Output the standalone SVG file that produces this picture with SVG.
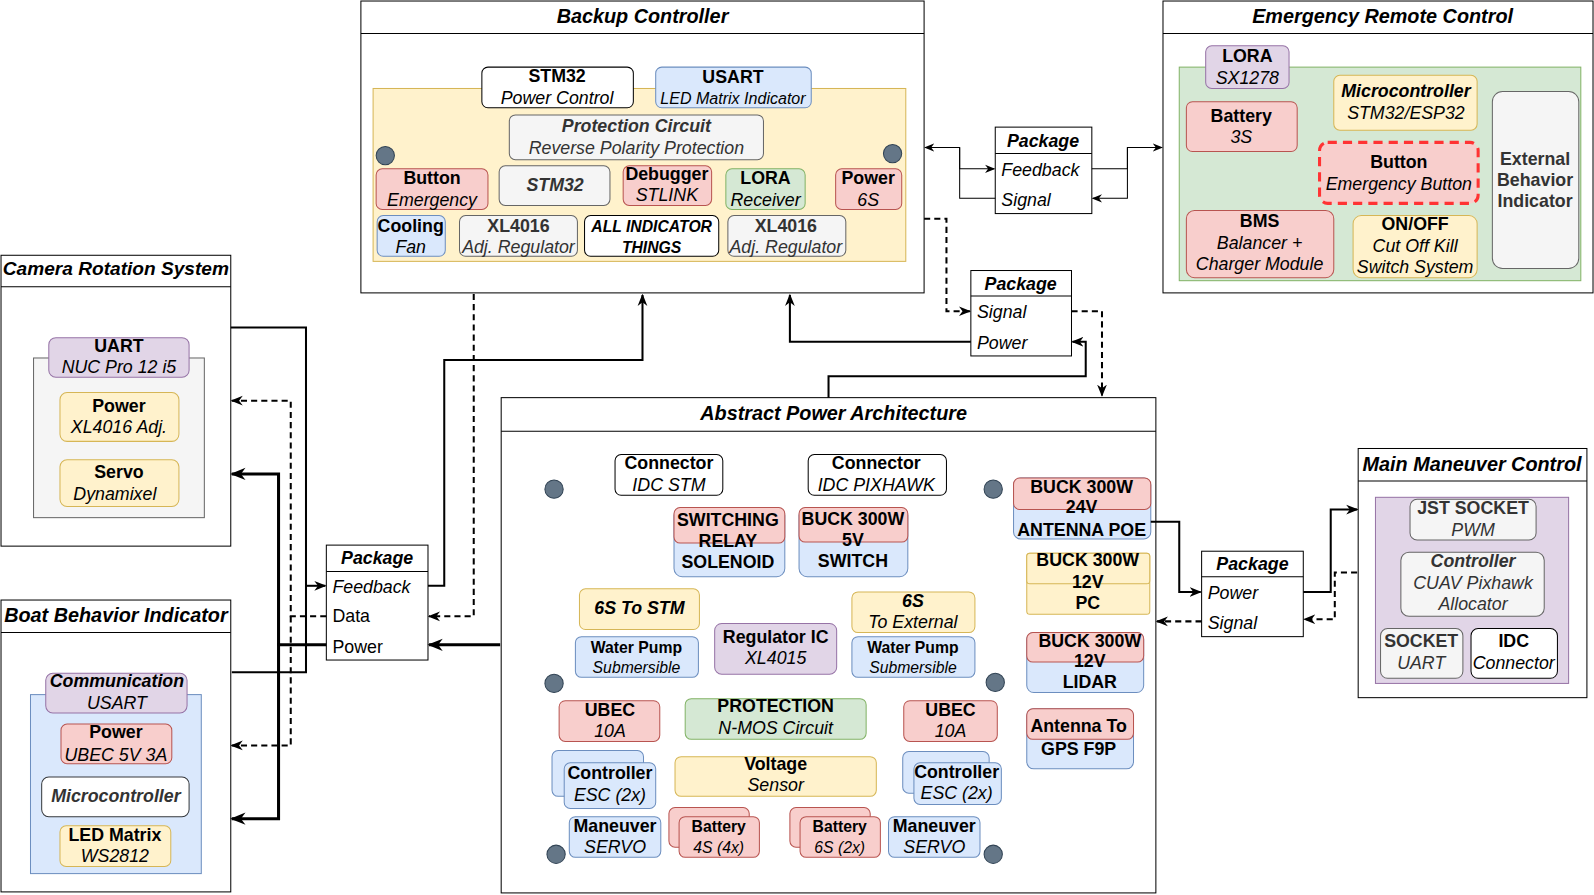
<svg xmlns="http://www.w3.org/2000/svg" width="1594" height="895" viewBox="0 0 1594 895">
<style>
text{font-family:"Liberation Sans",Arial,sans-serif;font-size:17.5px;text-anchor:middle;dominant-baseline:central;fill:#000}
.b{font-weight:bold}
.i{font-style:italic}
.bi{font-weight:bold;font-style:italic}
.s{font-size:15.5px}
.g{fill:#333}
.ttl{font-size:19.5px;font-weight:bold;font-style:italic}
.l{text-anchor:start}
.frame{fill:#fff;stroke:#000;stroke-width:1}
.hd{stroke:#000;stroke-width:1}
.R{fill:#f8cecc;stroke:#b85450}
.B{fill:#dae8fc;stroke:#6c8ebf}
.Y{fill:#fff2cc;stroke:#d6b656}
.G{fill:#d5e8d4;stroke:#82b366}
.P{fill:#e1d5e7;stroke:#9673a6}
.GR{fill:#f5f5f5;stroke:#666}
.W{fill:#fff;stroke:#000}
.dot{fill:#647687;stroke:#314354}
.c{fill:none;stroke:#000}
.d{stroke-dasharray:6 4}
.w1{stroke-width:1}
.w2{stroke-width:2}
.w3{stroke-width:3}
</style>
<defs>
<marker id="a" viewBox="0 0 10 10" refX="9" refY="5" markerWidth="10" markerHeight="10" markerUnits="userSpaceOnUse" orient="auto"><path d="M0,1 L10,5 L0,9 L3,5 Z" fill="#000"/></marker>
<marker id="m" viewBox="0 0 10 10" refX="9" refY="5" markerWidth="12" markerHeight="12" markerUnits="userSpaceOnUse" orient="auto"><path d="M0,1 L10,5 L0,9 L3,5 Z" fill="#000"/></marker>
<marker id="aL" viewBox="0 0 10 10" refX="9" refY="5" markerWidth="15" markerHeight="15" markerUnits="userSpaceOnUse" orient="auto"><path d="M0,1 L10,5 L0,9 L3,5 Z" fill="#000"/></marker>
</defs>
<rect width="1594" height="895" fill="#fff"/>
<g transform="scale(1.0166 1.017)">

<!-- Backup Controller -->
<g id="backup-controller">
<rect class="frame" x="355" y="1" width="554" height="287"/>
<line class="hd" x1="355" y1="33" x2="909" y2="33"/>
<text class="ttl" x="632" y="16">Backup Controller</text>
<rect class="Y" x="367" y="87" width="524" height="170"/>
<rect class="W" x="474" y="66" width="149" height="40" rx="6"/>
<text class="b" x="548" y="75">STM32</text><text class="i" x="548" y="96">Power Control</text>
<rect class="B" x="645" y="66" width="153" height="40" rx="6"/>
<text class="b" x="721" y="76">USART</text><text class="i" x="721" y="96" style="font-size:15.8px">LED Matrix Indicator</text>
<rect class="GR" x="501" y="113" width="250" height="44" rx="6"/>
<text class="bi g" x="626" y="124">Protection Circuit</text><text class="i g" x="626" y="146">Reverse Polarity Protection</text>
<circle class="dot" cx="379" cy="153" r="9"/>
<circle class="dot" cx="878" cy="151" r="9"/>
<rect class="R" x="370" y="166" width="110" height="40" rx="6"/>
<text class="b" x="425" y="175">Button</text><text class="i" x="425" y="197">Emergency</text>
<rect class="GR" x="491" y="163" width="109" height="39" rx="6"/>
<text class="bi g" x="546" y="182">STM32</text>
<rect class="R" x="613" y="163" width="87" height="39" rx="6"/>
<text class="b" x="656" y="171">Debugger</text><text class="i" x="656" y="192">STLINK</text>
<rect class="G" x="714" y="166" width="78" height="40" rx="6"/>
<text class="b" x="753" y="175">LORA</text><text class="i" x="753" y="197">Receiver</text>
<rect class="R" x="822" y="166" width="65" height="40" rx="6"/>
<text class="b" x="854" y="175">Power</text><text class="i" x="854" y="197">6S</text>
<rect class="B" x="371" y="212" width="67" height="40" rx="6"/>
<text class="b" x="404" y="222">Cooling</text><text class="i" x="404" y="243">Fan</text>
<rect class="GR" x="452" y="212" width="116" height="40" rx="6"/>
<text class="b g" x="510" y="222">XL4016</text><text class="i g" x="510" y="243">Adj. Regulator</text>
<rect class="W" x="575" y="212" width="132" height="40" rx="6"/>
<text class="bi s" x="641" y="223">ALL INDICATOR</text><text class="bi s" x="641" y="243">THINGS</text>
<rect class="GR" x="716" y="212" width="116" height="40" rx="6"/>
<text class="b g" x="773" y="222">XL4016</text><text class="i g" x="773" y="243">Adj. Regulator</text>
</g>

<!-- Emergency Remote Control -->
<g id="emergency-remote-control">
<rect class="frame" x="1144" y="1" width="423" height="287"/>
<line class="hd" x1="1144" y1="33" x2="1567" y2="33"/>
<text class="ttl" x="1360" y="16">Emergency Remote Control</text>
<rect class="G" x="1160" y="66" width="395" height="210"/>
<rect class="P" x="1186" y="45" width="82" height="42" rx="6"/>
<text class="b" x="1227" y="55">LORA</text><text class="i" x="1227" y="77">SX1278</text>
<rect class="R" x="1167" y="100" width="109" height="49" rx="6"/>
<text class="b" x="1221" y="114">Battery</text><text class="i" x="1221" y="135">3S</text>
<rect class="Y" x="1312" y="74" width="141" height="54" rx="6"/>
<text class="bi" x="1383" y="89">Microcontroller</text><text class="i" x="1383" y="111">STM32/ESP32</text>
<rect x="1298" y="140" width="156" height="60" rx="8" fill="#f8cecc" stroke="#ff3333" stroke-width="3" stroke-dasharray="9 6"/>
<text class="b" x="1376" y="159">Button</text><text class="i" x="1376" y="181">Emergency Button</text>
<rect class="GR" x="1468" y="90" width="85" height="174" rx="10"/>
<text class="b g" x="1510" y="156">External</text><text class="b g" x="1510" y="177">Behavior</text><text class="b g" x="1510" y="198">Indicator</text>
<rect class="R" x="1167" y="207" width="145" height="66" rx="8"/>
<text class="b" x="1239" y="217">BMS</text><text class="i" x="1239" y="239">Balancer +</text><text class="i" x="1239" y="260">Charger Module</text>
<rect class="Y" x="1331" y="212" width="122" height="61" rx="8"/>
<text class="b" x="1392" y="220">ON/OFF</text><text class="i" x="1392" y="242">Cut Off Kill</text><text class="i" x="1392" y="263">Switch System</text>
</g>

<!-- Package top -->
<g id="package-top">
<rect class="frame" x="979" y="125" width="95" height="85"/>
<line class="hd" x1="979" y1="151" x2="1074" y2="151"/>
<text class="bi" x="1026" y="139">Package</text>
<text class="i l" x="985" y="167">Feedback</text>
<text class="i l" x="985" y="197">Signal</text>
</g>

<!-- Package middle -->
<g id="package-middle">
<rect class="frame" x="955" y="266" width="99" height="84"/>
<line class="hd" x1="955" y1="291" x2="1054" y2="291"/>
<text class="bi" x="1004" y="279">Package</text>
<text class="i l" x="961" y="307">Signal</text>
<text class="i l" x="961" y="337">Power</text>
</g>

<!-- Camera Rotation System -->
<g id="camera-rotation-system">
<rect class="frame" x="1" y="251" width="226" height="286"/>
<line class="hd" x1="1" y1="282" x2="227" y2="282"/>
<text class="ttl" x="114" y="264" style="font-size:18.8px">Camera Rotation System</text>
<rect x="33" y="352" width="168" height="157" fill="#f5f5f5" stroke="#666"/>
<rect class="P" x="48" y="332" width="138" height="39" rx="7"/>
<text class="b" x="117" y="340">UART</text><text class="i" x="117" y="361">NUC Pro 12 i5</text>
<rect class="Y" x="59" y="386" width="117" height="48" rx="7"/>
<text class="b" x="117" y="399">Power</text><text class="i" x="117" y="420">XL4016 Adj.</text>
<rect class="Y" x="59" y="452" width="117" height="46" rx="7"/>
<text class="b" x="117" y="464">Servo</text><text class="i" x="113" y="486">Dynamixel</text>
</g>

<!-- Boat Behavior Indicator -->
<g id="boat-behavior-indicator">
<rect class="frame" x="1" y="590" width="226" height="287"/>
<line class="hd" x1="1" y1="622" x2="227" y2="622"/>
<text class="ttl" x="114" y="605">Boat Behavior Indicator</text>
<rect class="B" x="30" y="683" width="168" height="176"/>
<rect class="P" x="45" y="662" width="139" height="39" rx="7"/>
<text class="bi" x="115" y="670">Communication</text><text class="i" x="115" y="691">USART</text>
<rect class="R" x="60" y="712" width="109" height="39" rx="6"/>
<text class="b" x="114" y="720">Power</text><text class="i" x="114" y="742">UBEC 5V 3A</text>
<rect x="41" y="764" width="145" height="39" rx="7" fill="#fff" stroke="#36393d"/>
<text class="bi g" x="114" y="783">Microcontroller</text>
<rect class="Y" x="59" y="812" width="109" height="40" rx="6"/>
<text class="b" x="113" y="821">LED Matrix</text><text class="i" x="113" y="842">WS2812</text>
</g>

<!-- Package left -->
<g id="package-left">
<rect class="frame" x="321" y="536" width="100" height="113"/>
<line class="hd" x1="321" y1="562" x2="421" y2="562"/>
<text class="bi" x="371" y="549">Package</text>
<text class="i l" x="327" y="577">Feedback</text>
<text class="l" x="327" y="606">Data</text>
<text class="l" x="327" y="636">Power</text>
</g>

<!-- Abstract Power Architecture -->
<g id="abstract-power-architecture">
<rect class="frame" x="493" y="391" width="644" height="487"/>
<line class="hd" x1="493" y1="424" x2="1137" y2="424"/>
<text class="ttl" x="820" y="406">Abstract Power Architecture</text>
<rect class="W" x="605" y="447" width="106" height="40" rx="6"/>
<text class="b" x="658" y="455">Connector</text><text class="i" x="658" y="477">IDC STM</text>
<rect class="W" x="795" y="447" width="136" height="40" rx="6"/>
<text class="b" x="862" y="455">Connector</text><text class="i" x="862" y="477">IDC PIXHAWK</text>
<circle class="dot" cx="545" cy="481" r="9"/>
<circle class="dot" cx="977" cy="481" r="9"/>
<rect class="B" x="997" y="470" width="135" height="60" rx="7"/>
<rect class="R" x="997" y="470" width="135" height="31" rx="6"/>
<text class="b" x="1064" y="479">BUCK 300W</text><text class="b" x="1064" y="499">24V</text><text class="b" x="1064" y="521">ANTENNA POE</text>
<rect class="B" x="663" y="499" width="109" height="68" rx="8"/>
<rect class="R" x="663" y="499" width="109" height="35" rx="6"/>
<text class="b" x="716" y="511">SWITCHING</text><text class="b" x="716" y="532">RELAY</text><text class="b" x="716" y="553">SOLENOID</text>
<rect class="B" x="786" y="499" width="107" height="68" rx="8"/>
<rect class="R" x="786" y="499" width="107" height="34" rx="6"/>
<text class="b" x="839" y="510">BUCK 300W</text><text class="b" x="839" y="531">5V</text><text class="b" x="839" y="552">SWITCH</text>
<rect class="Y" x="1010" y="544" width="121" height="60" rx="3"/>
<rect class="Y" x="1010" y="544" width="121" height="30" rx="3"/>
<text class="b" x="1070" y="551">BUCK 300W</text><text class="b" x="1070" y="572">12V</text><text class="b" x="1070" y="593">PC</text>
<rect class="Y" x="570" y="579" width="118" height="40" rx="6"/>
<text class="bi" x="629" y="598">6S To STM</text>
<rect class="Y" x="838" y="582" width="121" height="40" rx="6"/>
<text class="bi" x="898" y="591">6S</text><text class="i" x="898" y="612">To External</text>
<rect class="P" x="703" y="613" width="120" height="50" rx="7"/>
<text class="b" x="763" y="626">Regulator IC</text><text class="i" x="763" y="647">XL4015</text>
<rect class="B" x="566" y="626" width="121" height="40" rx="6"/>
<text class="b s" x="626" y="637">Water Pump</text><text class="i s" x="626" y="656">Submersible</text>
<rect class="B" x="838" y="626" width="121" height="40" rx="6"/>
<text class="b s" x="898" y="637">Water Pump</text><text class="i s" x="898" y="656">Submersible</text>
<rect class="B" x="1010" y="622" width="115" height="59" rx="7"/>
<rect class="R" x="1010" y="622" width="115" height="29" rx="6"/>
<text class="b" x="1072" y="630">BUCK 300W</text><text class="b" x="1072" y="650">12V</text><text class="b" x="1072" y="671">LIDAR</text>
<circle class="dot" cx="545" cy="672" r="9"/>
<circle class="dot" cx="979" cy="671" r="9"/>
<rect class="R" x="550" y="689" width="99" height="40" rx="6"/>
<text class="b" x="600" y="698">UBEC</text><text class="i" x="600" y="719">10A</text>
<rect class="G" x="674" y="687" width="178" height="40" rx="6"/>
<text class="b" x="763" y="694">PROTECTION</text><text class="i" x="763" y="716">N-MOS Circuit</text>
<rect class="R" x="889" y="689" width="92" height="40" rx="6"/>
<text class="b" x="935" y="698">UBEC</text><text class="i" x="935" y="719">10A</text>
<rect class="B" x="1010" y="697" width="105" height="59" rx="7"/>
<rect class="R" x="1010" y="697" width="105" height="30" rx="6"/>
<text class="b" x="1061" y="714">Antenna To</text><text class="b" x="1061" y="736">GPS F9P</text>
<rect class="B" x="543" y="738" width="90" height="45" rx="6"/>
<rect class="B" x="555" y="750" width="90" height="45" rx="6"/>
<text class="b" x="600" y="760">Controller</text><text class="i" x="600" y="782">ESC (2x)</text>
<rect class="Y" x="664" y="744" width="198" height="39" rx="6"/>
<text class="b" x="763" y="751">Voltage</text><text class="i" x="763" y="772">Sensor</text>
<rect class="B" x="888" y="739" width="85" height="41" rx="6"/>
<rect class="B" x="899" y="750" width="86" height="41" rx="6"/>
<text class="b" x="941" y="759">Controller</text><text class="i" x="941" y="780">ESC (2x)</text>
<rect class="B" x="560" y="803" width="90" height="40" rx="6"/>
<text class="b" x="605" y="812">Maneuver</text><text class="i" x="605" y="833">SERVO</text>
<rect class="R" x="658" y="794" width="79" height="39" rx="6"/>
<rect class="R" x="668" y="803" width="79" height="40" rx="6"/>
<text class="b s" x="707" y="813">Battery</text><text class="i s" x="707" y="833">4S (4x)</text>
<rect class="R" x="777" y="794" width="79" height="39" rx="6"/>
<rect class="R" x="787" y="803" width="79" height="40" rx="6"/>
<text class="b s" x="826" y="813">Battery</text><text class="i s" x="826" y="833">6S (2x)</text>
<rect class="B" x="874" y="803" width="90" height="40" rx="6"/>
<text class="b" x="919" y="812">Maneuver</text><text class="i" x="919" y="833">SERVO</text>
<circle class="dot" cx="547" cy="840" r="9"/>
<circle class="dot" cx="977" cy="840" r="9"/>
</g>

<!-- Package right -->
<g id="package-right">
<rect class="frame" x="1182" y="542" width="100" height="84"/>
<line class="hd" x1="1182" y1="567" x2="1282" y2="567"/>
<text class="bi" x="1232" y="555">Package</text>
<text class="i l" x="1188" y="583">Power</text>
<text class="i l" x="1188" y="613">Signal</text>
</g>

<!-- Main Maneuver Control -->
<g id="main-maneuver-control">
<rect class="frame" x="1336" y="441" width="225" height="245"/>
<line class="hd" x1="1336" y1="473" x2="1561" y2="473"/>
<text class="ttl" x="1448" y="456">Main Maneuver Control</text>
<rect class="P" x="1353" y="489" width="190" height="183"/>
<rect class="GR" x="1387" y="491" width="124" height="40" rx="7"/>
<text class="b g" x="1449" y="500">JST SOCKET</text><text class="i g" x="1449" y="521">PWM</text>
<rect class="GR" x="1378" y="543" width="141" height="63" rx="8"/>
<text class="bi g" x="1449" y="552">Controller</text><text class="i g" x="1449" y="573">CUAV Pixhawk</text><text class="i g" x="1449" y="594">Allocator</text>
<rect class="GR" x="1358" y="618" width="81" height="49" rx="7"/>
<text class="b g" x="1398" y="630">SOCKET</text><text class="i g" x="1398" y="652">UART</text>
<rect class="W" x="1447" y="618" width="85" height="49" rx="7"/>
<text class="b" x="1489" y="630">IDC</text><text class="i" x="1489" y="652">Connector</text>
</g>

<!-- Connectors -->
<g id="connectors">
<path class="c w1" d="M979,195 H944 V145 H910" marker-end="url(#a)"/>
<path class="c w1" d="M944,145 V166 H978" marker-end="url(#a)"/>
<path class="c w1" d="M1074,166 H1109 V145 H1143" marker-end="url(#a)"/>
<path class="c w1" d="M1109,145 V195 H1075" marker-end="url(#a)"/>
<path class="c w2 d" d="M909,215 H931 V306 H954" marker-end="url(#m)"/>
<path class="c w2 d" d="M1054,306 H1084 V389" marker-end="url(#m)"/>
<path class="c w2" d="M815,391 V370 H1068 V336 H1055" marker-end="url(#m)"/>
<path class="c w2" d="M955,336 H777 V290" marker-end="url(#m)"/>
<path class="c w2" d="M227,322 H301 V661 H228"/>
<path class="c w2" d="M301,576 H320" marker-end="url(#m)"/>
<path class="c w2" d="M421,576 H437 V354 H632 V290" marker-end="url(#m)"/>
<path class="c w2 d" d="M466,289 V606 H422" marker-end="url(#m)"/>
<path class="c w2 d" d="M321,606 H286 V394 H228" marker-end="url(#m)"/>
<path class="c w2 d" d="M286,606 V733 H228" marker-end="url(#m)"/>
<path class="c w3" d="M492,634 H422" marker-end="url(#aL)"/>
<path class="c w3" d="M321,634 H274 V466 H228" marker-end="url(#aL)"/>
<path class="c w3" d="M274,634 V805 H228" marker-end="url(#aL)"/>
<path class="c w2" d="M1132,513 H1160 V582 H1181" marker-end="url(#m)"/>
<path class="c w2" d="M1282,582 H1309 V501 H1335" marker-end="url(#m)"/>
<path class="c w2 d" d="M1335,563 H1313 V609 H1283" marker-end="url(#m)"/>
<path class="c w2 d" d="M1182,611 H1138" marker-end="url(#m)"/>
</g>
</g>
</svg>
